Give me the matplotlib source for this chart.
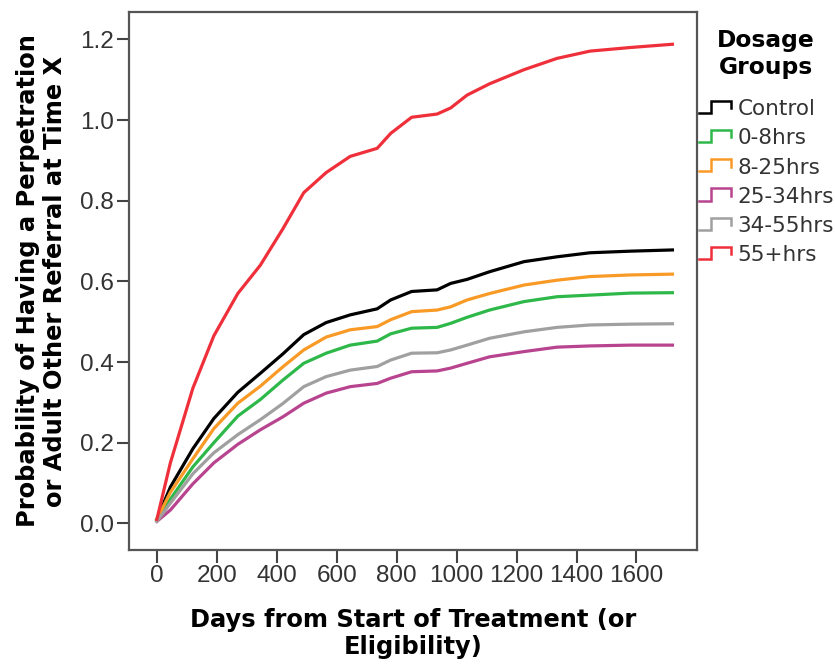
import matplotlib
matplotlib.use("Agg")
import matplotlib.pyplot as plt
from matplotlib.lines import Line2D
from matplotlib.legend_handler import HandlerBase
from matplotlib.ticker import FormatStrFormatter

plt.rcParams['font.family'] = ['Liberation Sans', 'DejaVu Sans']

# days from start of treatment (shared grid)
days = [0, 45, 120, 190, 270, 345, 420, 490, 565, 645, 735, 780, 850,
        935, 980, 1035, 1110, 1225, 1335, 1445, 1580, 1720]

control = [0.01, 0.09, 0.185, 0.26, 0.325, 0.372, 0.42, 0.468, 0.498, 0.517, 0.532,
           0.554, 0.575, 0.579, 0.595, 0.605, 0.624, 0.649, 0.661, 0.671, 0.675, 0.678]
hrs_0_8 = [0.01, 0.06, 0.14, 0.2, 0.266, 0.307, 0.355, 0.397, 0.422, 0.442, 0.452,
           0.47, 0.484, 0.486, 0.496, 0.511, 0.529, 0.55, 0.562, 0.566, 0.571, 0.572]
hrs_8_25 = [0.01, 0.077, 0.16, 0.235, 0.298, 0.34, 0.388, 0.43, 0.462, 0.48, 0.488,
            0.505, 0.525, 0.529, 0.537, 0.554, 0.57, 0.591, 0.603, 0.612, 0.616, 0.618]
hrs_25_34 = [0.005, 0.033, 0.098, 0.15, 0.196, 0.232, 0.264, 0.298, 0.323, 0.339, 0.347,
             0.36, 0.376, 0.378, 0.385, 0.397, 0.413, 0.426, 0.437, 0.44, 0.442, 0.442]
hrs_34_55 = [0.005, 0.05, 0.123, 0.175, 0.22, 0.257, 0.297, 0.339, 0.364, 0.38, 0.389,
             0.405, 0.422, 0.423, 0.43, 0.442, 0.459, 0.475, 0.486, 0.492, 0.494, 0.495]
hrs_55p = [0.01, 0.15, 0.335, 0.465, 0.57, 0.64, 0.73, 0.82, 0.87, 0.91, 0.93,
           0.967, 1.007, 1.015, 1.03, 1.062, 1.09, 1.125, 1.153, 1.171, 1.18, 1.188]

groups = ['Control', '0-8hrs', '8-25hrs', '25-34hrs', '34-55hrs', '55+hrs']
series = [control, hrs_0_8, hrs_8_25, hrs_25_34, hrs_34_55, hrs_55p]
colors = ['#000000', '#2fb84a', '#f99a26', '#b8448f', '#a0a0a0', '#ef2f3a']

x_ticks = [0, 200, 400, 600, 800, 1000, 1200, 1400, 1600]
y_ticks = [0.0, 0.2, 0.4, 0.6, 0.8, 1.0, 1.2]


class StepHandler(HandlerBase):
    # little step icon like the one SPSS draws in its legend
    def create_artists(self, legend, orig_handle, xdescent, ydescent,
                       width, height, fontsize, trans):
        x0, y0 = -xdescent, -ydescent
        xs = [x0, x0 + 0.36 * width, x0 + 0.36 * width, x0 + width, x0 + width]
        ys = [y0 + 0.1 * height, y0 + 0.1 * height, y0 + 1.0 * height,
              y0 + 1.0 * height, y0 + 0.45 * height]
        ln = Line2D(xs, ys, color=orig_handle.get_color(), lw=1.8,
                    solid_joinstyle='miter', transform=trans)
        return [ln]


fig = plt.figure(figsize=(8.35, 6.64), dpi=100)
ax = fig.add_axes([129/835, 1 - 550/664, (697-129)/835, (550-12)/664])

handles = []
for name, vals, c in zip(groups, series, colors):
    ln, = ax.plot(days, vals, color=c, lw=2.3, label=name)
    handles.append(ln)

ax.set_xlim(-93, 1802)
ax.set_ylim(-0.066, 1.268)
ax.set_xticks(x_ticks)
ax.set_yticks(y_ticks)
ax.yaxis.set_major_formatter(FormatStrFormatter('%.1f'))

for s in ax.spines.values():
    s.set_color('#555555')
    s.set_linewidth(1.6)
ax.tick_params(direction='out', length=9, width=1.5, color='#444444',
               labelsize=17.5, labelcolor='#333333', pad=2)

bold = dict(family='DejaVu Sans', fontweight='bold', fontsize=17.4)
ax.set_xlabel('Days from Start of Treatment (or\nEligibility)', labelpad=15,
              linespacing=1.15, **bold)
ax.set_ylabel('Probability of Having a Perpetration\nor Adult Other Referral at Time X',
              labelpad=9, linespacing=1.15, **bold)

fig.text(766/835, 1 - 54/664, 'Dosage\nGroups', ha='center', va='center',
         family='DejaVu Sans', fontweight='bold', fontsize=16.8, linespacing=1.2)

leg = fig.legend(handles=handles, labels=groups, loc='upper left',
                 bbox_to_anchor=(699/835, 1 - 99/664), frameon=False,
                 prop={'family': 'DejaVu Sans', 'size': 15.5}, handlelength=1.5,
                 handleheight=0.6, handletextpad=0.3, labelspacing=0.43,
                 borderpad=0, borderaxespad=0, handler_map={Line2D: StepHandler()})
for t in leg.get_texts():
    t.set_color('#333333')

fig.savefig('out.png', dpi=100)
